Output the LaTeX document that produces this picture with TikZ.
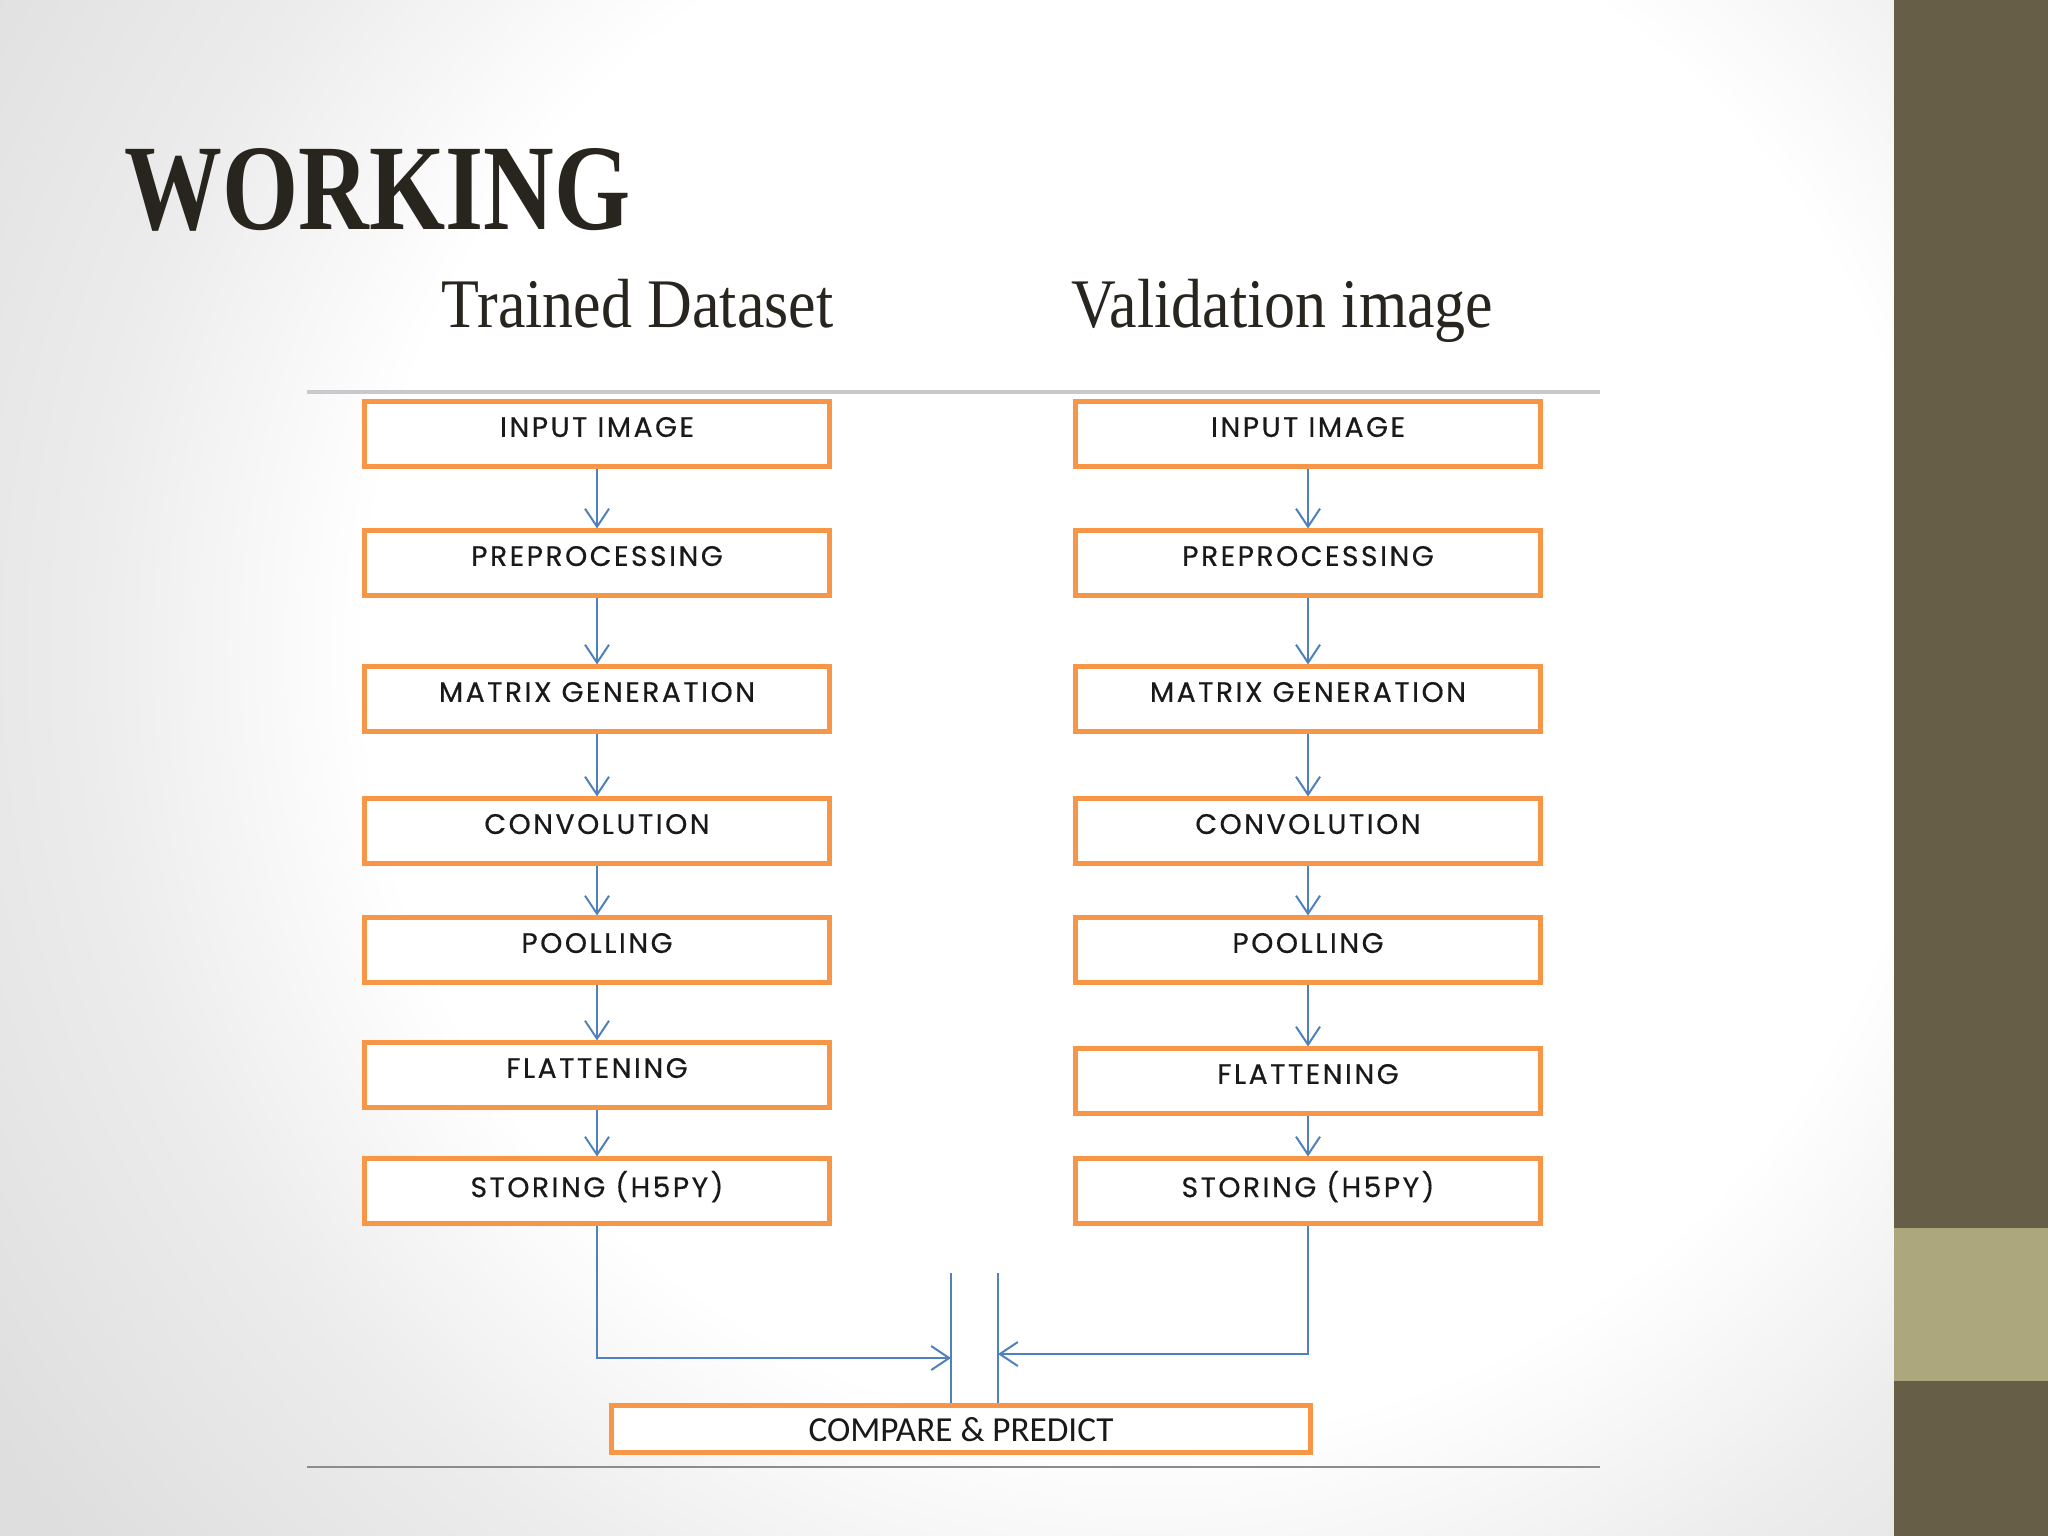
\documentclass[tikz,border=0pt]{standalone}
\usepackage{fontspec}
\setmainfont{Liberation Serif}
\newfontfamily\stagefont[LetterSpace=9,FakeBold=0.5]{Poppins}
\newfontfamily\cpfont{Carlito}
\usetikzlibrary{arrows.meta}
\definecolor{boxorange}{RGB}{247,150,70}
\definecolor{flowblue}{RGB}{79,129,189}
\definecolor{headdark}{RGB}{40,37,30}
\definecolor{banddark}{RGB}{103,94,71}
\definecolor{bandlight}{RGB}{172,167,124}
\definecolor{ruletop}{RGB}{200,200,205}
\definecolor{rulebot}{RGB}{140,140,140}
\definecolor{bgmid}{RGB}{236,236,237}
\definecolor{bgedge}{RGB}{222,222,223}
\pgfdeclareradialshading{slidebg}{\pgfpoint{0bp}{0bp}}{color(0bp)=(white); color(14bp)=(white); color(19bp)=(bgmid); color(25bp)=(bgedge); color(50bp)=(bgedge)}

\tikzset{
	stage/.style={draw=boxorange, line width=0.5mm, fill=white, minimum width=4.65cm,
		minimum height=0.64cm, text depth=4pt, text=black!90,
		font=\stagefont\fontsize{8}{9}\selectfont},
	cpbox/.style={stage, minimum width=6.99cm, minimum height=0.46cm, text depth=0pt,
		font=\cpfont\fontsize{10}{12}\selectfont},
	headtxt/.style={anchor=base west, inner sep=0pt, text=headdark},
	link/.style={draw=flowblue, line width=0.2mm},
	flow/.style={link, -{Straight Barb[length=1.8mm,width=2.4mm]}}
}

\begin{document}
\begin{tikzpicture}[x=0.01cm,y=-0.01cm]
		\useasboundingbox (0,0) rectangle (2048,1536);
		% slide background
		\begin{scope}
			\clip (0,0) rectangle (1894,1536);
			\shade[shading=slidebg] (-250,-750) rectangle (2550,2050);
		\end{scope}
		\fill[banddark] (1894,0) rectangle (2048,1536);
		\fill[bandlight] (1894,1228) rectangle (2048,1381);
		%
		\node[headtxt, font=\bfseries\fontsize{34.8}{40}\selectfont] (title) at (124,229) {\scalebox{0.8}[1]{WORKING}};
		\node[headtxt, font=\fontsize{19.8}{24}\selectfont] (trained) at (441,327) {\scalebox{0.89}[1]{Trained Dataset}};
		\node[headtxt, font=\fontsize{19.8}{24}\selectfont] (valid) at (1071,327) {\scalebox{0.89}[1]{Validation image}};
		%
		\draw[ruletop, line width=0.4mm] (307,392) -- (1600,392);
		\draw[rulebot, line width=0.2mm] (307,1467) -- (1600,1467);
		%
		\node[stage] (L1) at (597,434) {INPUT IMAGE};
		\node[stage] (L2) at (597,563) {PREPROCESSING};
		\node[stage] (L3) at (597,699) {MATRIX GENERATION};
		\node[stage] (L4) at (597,831) {CONVOLUTION};
		\node[stage] (L5) at (597,950) {POOLLING};
		\node[stage] (L6) at (597,1075) {FLATTENING};
		\node[stage] (L7) at (597,1191) {STORING (H5PY)};
		%
		\node[stage] (R1) at (1308,434) {INPUT IMAGE};
		\node[stage] (R2) at (1308,563) {PREPROCESSING};
		\node[stage] (R3) at (1308,699) {MATRIX GENERATION};
		\node[stage] (R4) at (1308,831) {CONVOLUTION};
		\node[stage] (R5) at (1308,950) {POOLLING};
		\node[stage] (R6) at (1308,1081) {FLATTENING};
		\node[stage] (R7) at (1308,1191) {STORING (H5PY)};
		%
		\node[cpbox] (CP) at (961,1429) {COMPARE \& PREDICT};
		%
		\foreach \a/\b in {1/2,2/3,3/4,4/5,5/6,6/7}{
			\draw[flow] (L\a.south) -- (L\b.north);
			\draw[flow] (R\a.south) -- (R\b.north);
		}
		%
		\coordinate (gapL) at (951,1273);
		\coordinate (gapR) at (998,1273);
		\coordinate (joinL) at (951,1358);
		\coordinate (joinR) at (998,1354);
		\draw[link] (gapL) -- (gapL |- CP.north);
		\draw[link] (gapR) -- (gapR |- CP.north);
		\draw[flow] (L7.south) |- (joinL);
		\draw[flow] (R7.south) |- (joinR);
\end{tikzpicture}
\end{document}
